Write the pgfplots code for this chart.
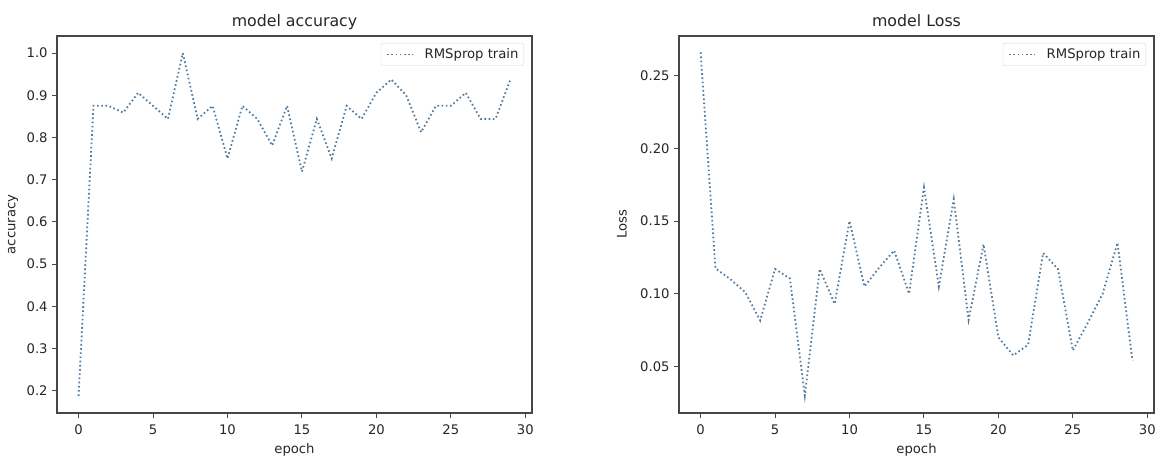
\documentclass[border=0pt]{standalone}
\usepackage{fontspec}
\setmainfont{DejaVu Sans}
\usepackage{pgfplots}
\pgfplotsset{compat=1.18}

\definecolor{rmsblue}{RGB}{80,122,158}
\definecolor{spinegray}{RGB}{70,70,70}
\definecolor{legendgray}{RGB}{215,215,215}

\pgfplotsset{
  mplstyle/.style={
    scale only axis,
    width=475pt, height=377pt,
    anchor=south west,
    xmin=-1.45, xmax=30.45,
    xtick={0,5,...,30},
    tick align=outside,
    xtick pos=left, ytick pos=left,
    major tick length=4.6pt,
    tick style={spinegray, line width=1pt},
    axis line style={spinegray, line width=1.2pt},
    /pgf/number format/assume math mode=true,
    tick label style={font=\fontsize{13.2}{15}\selectfont, text=black!85},
    xticklabel style={inner sep=0pt, anchor=north, yshift=-7pt},
    yticklabel style={inner sep=0pt, anchor=east, xshift=-4.6pt},
    label style={font=\fontsize{13.2}{15}\selectfont, text=black!85},
    xlabel style={at={(axis description cs:0.5,0)}, anchor=base, yshift=-41pt},
    title style={font=\fontsize{15.8}{18}\selectfont, text=black!85,
      at={(axis description cs:0.5,1)}, anchor=base, yshift=3pt},
    legend style={at={(axis description cs:1,1)}, anchor=north east,
      xshift=-8pt, yshift=-7pt, draw=legendgray, rounded corners=2pt,
      font=\fontsize{13.2}{15}\selectfont, text=black!85,
      inner xsep=5.3pt, inner ysep=4pt, column sep=10.6pt,
      nodes={inner xsep=0pt, inner ysep=1.5pt}},
    legend cell align=left,
    legend image code/.code={\draw[##1] (0pt,0pt) -- (26pt,0pt);},
  },
  rmsline/.style={rmsblue, line width=1.8pt, dash pattern=on 1.6pt off 2.6pt},
}

\begin{document}
\begin{tikzpicture}[x=1pt,y=1pt]
\useasboundingbox (0,0) rectangle (1155,457);

% left: accuracy
\begin{axis}[
  mplstyle,
  at={(57pt,44pt)},
  ymin=0.1469, ymax=1.0406,
  ytick={0.2,0.3,0.4,0.5,0.6,0.7,0.8,0.9,1.0},
  yticklabel style={/pgf/number format/.cd, fixed, fixed zerofill, precision=1},
  title={model accuracy},
  xlabel={epoch},
  ylabel={accuracy},
  ylabel style={at={(axis description cs:0,0.5)}, anchor=center, yshift=44pt},
]
\addplot[rmsline] coordinates {
(0,0.1875) (1,0.875) (2,0.875) (3,0.859) (4,0.906) (5,0.875) (6,0.844)
(7,1.0) (8,0.844) (9,0.875) (10,0.75) (11,0.875) (12,0.844) (13,0.781)
(14,0.875) (15,0.719) (16,0.844) (17,0.75) (18,0.875) (19,0.844)
(20,0.906) (21,0.9375) (22,0.90) (23,0.8125) (24,0.875) (25,0.875)
(26,0.906) (27,0.844) (28,0.844) (29,0.9375)
};
\addlegendentry{RMSprop train}
\end{axis}

% right: loss
\begin{axis}[
  mplstyle,
  at={(679pt,44pt)},
  ymin=0.018, ymax=0.2772,
  ytick={0.05,0.10,0.15,0.20,0.25},
  yticklabel style={/pgf/number format/.cd, fixed, fixed zerofill, precision=2},
  title={model Loss},
  xlabel={epoch},
  ylabel={Loss},
  ylabel style={at={(axis description cs:0,0.5)}, anchor=center, yshift=57pt},
]
\addplot[rmsline] coordinates {
(0,0.266) (1,0.1174) (2,0.110) (3,0.101) (4,0.0816) (5,0.117) (6,0.1105)
(7,0.030) (8,0.117) (9,0.093) (10,0.150) (11,0.105) (12,0.118) (13,0.1297)
(14,0.100) (15,0.173) (16,0.105) (17,0.165) (18,0.082) (19,0.134)
(20,0.070) (21,0.0576) (22,0.065) (23,0.128) (24,0.117) (25,0.061)
(26,0.080) (27,0.100) (28,0.135) (29,0.054)
};
\addlegendentry{RMSprop train}
\end{axis}
\end{tikzpicture}
\end{document}
